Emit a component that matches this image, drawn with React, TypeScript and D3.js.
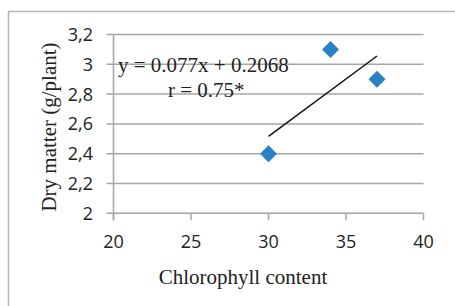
import { useRef, useEffect } from 'react'
import * as d3 from 'd3';

// chlorophyll content vs dry matter
const chlorophyll = [30, 34, 37];
const dryMatter = [2.4, 3.1, 2.9];

const xTicks = [20, 25, 30, 35, 40];
const yTicks = [2, 2.2, 2.4, 2.6, 2.8, 3, 3.2];

const slope = 0.077;
const intercept = 0.2068;
const equationLabel = "y = 0.077x + 0.2068";
const rLabel = "r = 0.75*";

function App() {
    const d3Container = useRef(null);

    const width = 455;
    const height = 306;

    useEffect(() => {
        const marginLeft = 113.5;
        const marginRight = 31.5;
        const marginTop = 34.5;
        const plotBottom = 213.3;

        const svg = d3.select(d3Container.current);
        svg.selectAll("*").remove();

        // outer frame (runs off the right and bottom edge)
        svg.append("rect")
           .attr("x", 8.5)
           .attr("y", 11.5)
           .attr("width", 470)
           .attr("height", 320)
           .attr("fill", "white")
           .attr("stroke", "#b4b4b4")
           .attr("stroke-width", 1.5);

        const x = d3.scaleLinear()
                    .domain([20, 40])
                    .range([marginLeft, width - marginRight]);

        const y = d3.scaleLinear()
                    .domain([2, 3.2])
                    .range([plotBottom, marginTop]);

        const sans = "'Open Sans', sans-serif";
        const serif = "'Liberation Serif', 'Times New Roman', serif";
        const gridColor = "#a6a6a6";

        // horizontal gridlines, stretched left so they double as ticks
        svg.append("g")
           .selectAll()
           .data(yTicks)
           .join("line")
           .attr("x1", marginLeft - 7)
           .attr("x2", x(40))
           .attr("y1", (d) => y(d))
           .attr("y2", (d) => y(d))
           .attr("stroke", gridColor)
           .attr("stroke-width", 1.5);

        // vertical axis line
        svg.append("line")
           .attr("x1", x(20))
           .attr("x2", x(20))
           .attr("y1", y(3.2))
           .attr("y2", plotBottom + 7)
           .attr("stroke", gridColor)
           .attr("stroke-width", 1.5);

        // x ticks
        svg.append("g")
           .selectAll()
           .data(xTicks)
           .join("line")
           .attr("x1", (d) => x(d))
           .attr("x2", (d) => x(d))
           .attr("y1", plotBottom)
           .attr("y2", plotBottom + 7)
           .attr("stroke", gridColor)
           .attr("stroke-width", 1.5);

        svg.append("g")
           .selectAll()
           .data(xTicks)
           .join("text")
           .attr("x", (d) => x(d))
           .attr("y", 248)
           .attr("text-anchor", "middle")
           .attr("font-family", sans)
           .attr("font-size", 18)
           .attr("fill", "#222")
           .text((d) => d);

        svg.append("g")
           .selectAll()
           .data(yTicks)
           .join("text")
           .attr("x", 93)
           .attr("y", (d) => y(d) + 6.5)
           .attr("text-anchor", "end")
           .attr("font-family", sans)
           .attr("font-size", 18)
           .attr("fill", "#222")
           .text((d) => d3.format("~g")(d).replace(".", ","));

        // trendline over the data range
        const [xMin, xMax] = d3.extent(chlorophyll);
        svg.append("line")
           .attr("x1", x(xMin))
           .attr("x2", x(xMax))
           .attr("y1", y(slope * xMin + intercept))
           .attr("y2", y(slope * xMax + intercept))
           .attr("stroke", "#111")
           .attr("stroke-width", 1.5);

        // diamonds
        const diamond = d3.symbol(d3.symbolSquare, 144);
        svg.append("g")
           .selectAll()
           .data(chlorophyll.map((c, i) => ({ c, v: dryMatter[i] })))
           .join("path")
           .attr("d", diamond)
           .attr("transform", (d) => `translate(${x(d.c)},${y(d.v)}) rotate(45)`)
           .attr("fill", "#2a82c6");

        // regression labels
        svg.append("text")
           .attr("x", 118)
           .attr("y", 72)
           .attr("font-family", serif)
           .attr("font-size", 21)
           .attr("fill", "#222")
           .text(equationLabel);

        svg.append("text")
           .attr("x", 168)
           .attr("y", 97)
           .attr("font-family", serif)
           .attr("font-size", 21)
           .attr("fill", "#222")
           .text(rLabel);

        // axis titles
        svg.append("text")
           .attr("x", 243)
           .attr("y", 284)
           .attr("text-anchor", "middle")
           .attr("font-family", serif)
           .attr("font-size", 21)
           .attr("fill", "#222")
           .text("Chlorophyll content");

        svg.append("text")
           .attr("transform", "translate(55.5,127) rotate(-90)")
           .attr("text-anchor", "middle")
           .attr("font-family", serif)
           .attr("font-size", 21)
           .attr("fill", "#222")
           .text("Dry matter (g/plant)");
    });

    return (
        <svg width={width}
             height={height}
             style={{ position: "absolute", left: 0, top: 0 }}
             ref={d3Container} />
    )
}

export default App;
